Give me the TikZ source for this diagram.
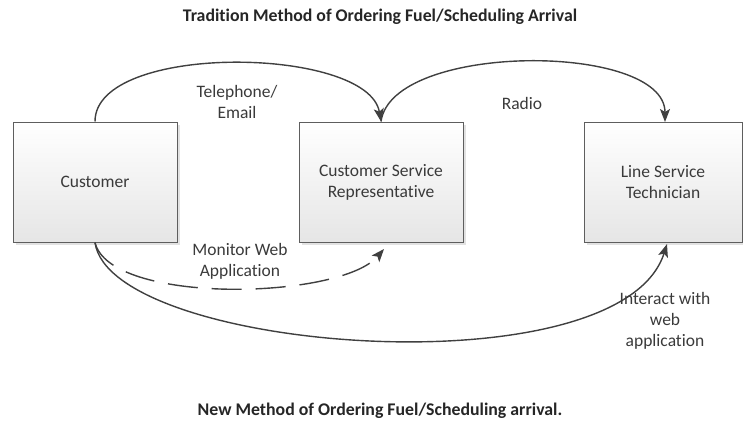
\documentclass[tikz,border=0pt]{standalone}
\usepackage{fontspec}
\setmainfont{Carlito}[Ligatures=NoCommon]
\usetikzlibrary{arrows.meta,shadows}
\definecolor{txt}{HTML}{3A3A3A}
\definecolor{ln}{HTML}{404040}
\definecolor{bx}{HTML}{5E5E5E}
\begin{document}
\begin{tikzpicture}[x=1pt,y=-1pt,
  lbl/.style={font=\fontsize{17.5}{21}\selectfont, text=txt, align=center, inner sep=0pt},
  ttl/.style={font=\fontsize{17.8}{21}\selectfont\bfseries, text=black!85, inner sep=0pt},
  box/.style={lbl, draw=bx, line width=1pt, minimum width=164pt, minimum height=120pt,
    top color=white, bottom color=black!10,
    drop shadow={shadow xshift=3pt, shadow yshift=-3pt, fill=black!14, opacity=0.8}},
  conn/.style={draw=ln, line width=1.4pt, -{Stealth[length=13pt,width=10pt,inset=3pt]}},
  dsh/.style={conn, dash pattern=on 30pt off 14pt}
]
\useasboundingbox (0,0) rectangle (743,425);
\node[ttl] (t1) at (380,17) {Tradition Method of Ordering Fuel/Scheduling Arrival};
\node[ttl] (t2) at (380,411) {New Method of Ordering Fuel/Scheduling arrival.};

\node[box] (cust) at (95,182) {Customer};
\node[box] (csr) at (381,182) {Customer Service\\Representative};
\node[box, minimum width=158pt] (lst) at (663,182) {Line Service\\Technician};

\coordinate (csrb) at (384,249);
\coordinate (lstb) at (667,244);
\coordinate (lstt) at (665,122);

\draw[conn] (cust.north) .. controls (95,42) and (368,46) .. (csr.north);
\draw[conn] (csr.north) .. controls (392,42) and (665,42) .. (lstt);
\draw[dsh] (cust.south) .. controls (110,305) and (340,300) .. (csrb);
\draw[conn] (cust.south) .. controls (110,352) and (620,392) .. (lstb);

\node[lbl] (l1) at (237,102) {Telephone/\\Email};
\node[lbl] (l2) at (522,103) {Radio};
\node[lbl] (l3) at (240,261) {Monitor Web\\Application};
\node[lbl] (l4) at (665,321) {Interact with\\web\\application};
\end{tikzpicture}
\end{document}
